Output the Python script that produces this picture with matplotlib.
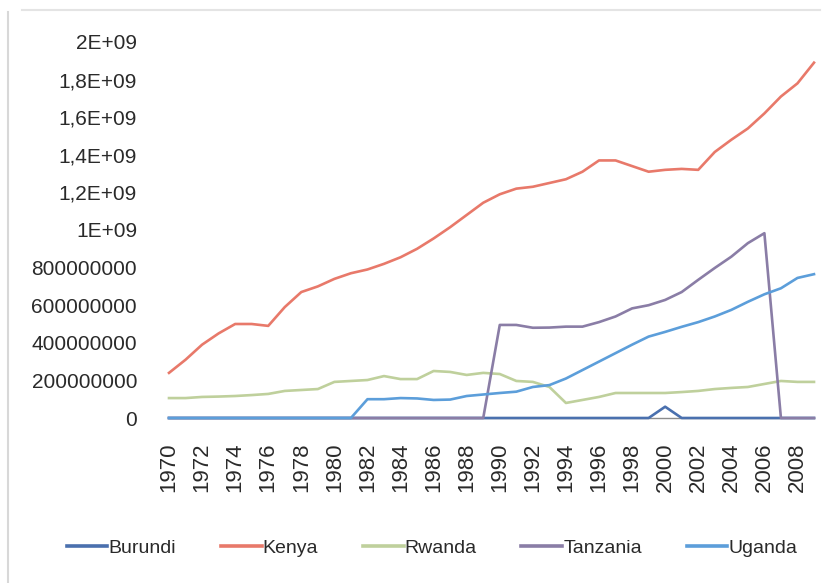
import matplotlib
matplotlib.use("Agg")
import matplotlib.pyplot as plt
import matplotlib.ticker as mticker
from matplotlib.lines import Line2D
import numpy as np

years = list(range(1970, 2010))

burundi = [0]*29 + [0, 60e6, 0] + [0]*8

kenya = [240e6, 310e6, 390e6, 450e6, 500e6, 500e6, 490e6, 590e6, 670e6, 700e6,
         740e6, 770e6, 790e6, 820e6, 855e6, 900e6, 955e6, 1015e6, 1080e6, 1145e6,
         1190e6, 1220e6, 1230e6, 1250e6, 1270e6, 1310e6, 1370e6, 1370e6, 1340e6, 1310e6,
         1320e6, 1325e6, 1320e6, 1415e6, 1480e6, 1540e6, 1620e6, 1710e6, 1780e6, 1890e6]

rwanda = [106e6, 106e6, 112e6, 114e6, 117e6, 122e6, 128e6, 144e6, 149e6, 154e6,
          192e6, 197e6, 202e6, 223e6, 207e6, 207e6, 250e6, 245e6, 229e6, 240e6,
          234e6, 197e6, 192e6, 165e6, 80e6, 96e6, 112e6, 133e6, 133e6, 133e6,
          133e6, 138e6, 144e6, 154e6, 160e6, 165e6, 181e6, 197e6, 192e6, 192e6]

tanzania = [0]*20 + [495e6, 495e6, 480e6, 481e6, 486e6, 486e6, 510e6, 540e6, 583e6, 600e6,
                     628e6, 670e6, 735e6, 798e6, 858e6, 930e6, 983e6, 0, 0, 0]

uganda = [0]*12 + [100e6, 100e6, 106e6, 104e6, 96e6, 98e6, 117e6, 125e6,
                   133e6, 140e6, 165e6, 175e6, 210e6, 255e6, 300e6, 345e6, 390e6, 433e6,
                   458e6, 485e6, 510e6, 540e6, 575e6, 618e6, 658e6, 690e6, 745e6, 765e6]

series_names = ["Burundi", "Kenya", "Rwanda", "Tanzania", "Uganda"]
series_values = [burundi, kenya, rwanda, tanzania, uganda]
colors = ["#4A70AE", "#E8796A", "#BFD09C", "#8A7DA6", "#5C9EDA"]

yticks = [0, 2e8, 4e8, 6e8, 8e8, 1e9, 1.2e9, 1.4e9, 1.6e9, 1.8e9, 2e9]
ytick_labels = ["0", "200000000", "400000000", "600000000", "800000000",
                "1E+09", "1,2E+09", "1,4E+09", "1,6E+09", "1,8E+09", "2E+09"]
xtick_years = list(range(1970, 2010, 2))

W, H = 823, 583
fig = plt.figure(figsize=(W/100, H/100), dpi=100)
ax = fig.add_axes([169/W, 1-418/H, (814-169)/W, (418-42)/H])

for name, vals, c in zip(series_names, series_values, colors):
    ax.plot(years, vals, color=c, lw=1.9, label=name, clip_on=False, solid_joinstyle="round")

ax.set_xlim(1970, 2009)
ax.set_ylim(0, 2e9)
ax.set_yticks(yticks)
ax.yaxis.set_major_formatter(mticker.FixedFormatter(ytick_labels))
ax.set_xticks(xtick_years)
ax.set_xticklabels([str(y) for y in xtick_years], rotation=90)

for s in ["top", "right", "left"]:
    ax.spines[s].set_visible(False)
ax.spines["bottom"].set_color("#8C8C8C")
ax.spines["bottom"].set_linewidth(1.0)
ax.spines["bottom"].set_zorder(0)

ax.tick_params(axis="y", length=0, pad=23, labelsize=15, labelcolor="#2A2A2A")
ax.tick_params(axis="x", length=0, pad=18, labelsize=16, labelcolor="#2A2A2A")
for lab in ax.get_xticklabels() + ax.get_yticklabels():
    lab.set_fontfamily(["Liberation Sans", "DejaVu Sans"])

handles = [Line2D([], [], color=c, lw=2.6) for c in colors]
leg = fig.legend(handles, series_names, loc="center", ncol=5,
                 bbox_to_anchor=(432/W, 1-548/H), frameon=False,
                 handlelength=2.1, handletextpad=0.05, columnspacing=2.3,
                 prop={"family": ["Liberation Sans", "DejaVu Sans"], "size": 14})
for t in leg.get_texts():
    t.set_color("#2A2A2A")

# faint frame remnants
fig.add_artist(Line2D([8/W, 8/W], [1-12/H, 0], transform=fig.transFigure, color="#D8D8D8", lw=1.5))
fig.add_artist(Line2D([22/W, 820/W], [1-10/H, 1-10/H], transform=fig.transFigure, color="#E4E4E4", lw=1.5))

fig.savefig("out.png", dpi=100)
